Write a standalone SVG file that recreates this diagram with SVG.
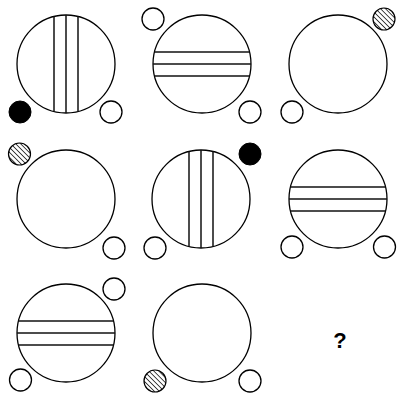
<svg xmlns="http://www.w3.org/2000/svg" width="397" height="396" viewBox="0 0 397 396">
<defs>
<pattern id="hatch" patternUnits="userSpaceOnUse" width="3.5" height="3.5" patternTransform="rotate(-45)">
<rect width="3.5" height="3.5" fill="#fff"/>
<line x1="0" y1="0" x2="0" y2="3.5" stroke="#222" stroke-width="1.6"/>
</pattern>
</defs>
<style>
.big{fill:#fff;stroke:#000;stroke-width:1.3}
.sm{fill:#fff;stroke:#000;stroke-width:1.3}
.blk{fill:#000;stroke:#000;stroke-width:1}
.hat{fill:url(#hatch);stroke:#000;stroke-width:1.2}
.ln{stroke:#111;stroke-width:1.5;fill:none}
.q{font-family:"Liberation Sans",Arial,sans-serif;font-size:22px;font-weight:bold;fill:#000}
</style>
<rect width="397" height="396" fill="#fff"/>
<g id="cell1">
<circle class="big" cx="66" cy="64" r="49"/>
<line class="ln" x1="54" y1="16.5" x2="54" y2="111.5"/>
<line class="ln" x1="66" y1="15" x2="66" y2="113"/>
<line class="ln" x1="78" y1="16.5" x2="78" y2="111.5"/>
<circle class="blk" cx="20" cy="112" r="11"/>
<circle class="sm" cx="111" cy="112" r="11"/>
</g>
<g id="cell2">
<circle class="big" cx="202" cy="64" r="49"/>
<line class="ln" x1="154.5" y1="52" x2="249.5" y2="52"/>
<line class="ln" x1="153" y1="64" x2="251" y2="64"/>
<line class="ln" x1="154.5" y1="76" x2="249.5" y2="76"/>
<circle class="sm" cx="153" cy="19" r="11"/>
<circle class="sm" cx="250" cy="112" r="11"/>
</g>
<g id="cell3">
<circle class="big" cx="338" cy="64" r="49"/>
<circle class="hat" cx="384" cy="19" r="11"/>
<circle class="sm" cx="292" cy="112" r="11"/>
</g>
<g id="cell4">
<circle class="big" cx="66" cy="199" r="49"/>
<circle class="hat" cx="19.5" cy="154" r="11"/>
<circle class="sm" cx="114" cy="248" r="11"/>
</g>
<g id="cell5">
<circle class="big" cx="201" cy="199" r="49"/>
<line class="ln" x1="189" y1="151.5" x2="189" y2="246.5"/>
<line class="ln" x1="201" y1="150" x2="201" y2="248"/>
<line class="ln" x1="213" y1="151.5" x2="213" y2="246.5"/>
<circle class="blk" cx="250" cy="154" r="11"/>
<circle class="sm" cx="155" cy="248" r="11"/>
</g>
<g id="cell6">
<circle class="big" cx="338" cy="199" r="49"/>
<line class="ln" x1="290.5" y1="187" x2="385.5" y2="187"/>
<line class="ln" x1="289" y1="199" x2="387" y2="199"/>
<line class="ln" x1="290.5" y1="211" x2="385.5" y2="211"/>
<circle class="sm" cx="292" cy="247" r="11"/>
<circle class="sm" cx="384.5" cy="247" r="11"/>
</g>
<g id="cell7">
<circle class="big" cx="66" cy="333" r="49"/>
<line class="ln" x1="18.5" y1="321" x2="113.5" y2="321"/>
<line class="ln" x1="17" y1="333" x2="115" y2="333"/>
<line class="ln" x1="18.5" y1="345" x2="113.5" y2="345"/>
<circle class="sm" cx="114" cy="289" r="11"/>
<circle class="sm" cx="20.5" cy="380" r="11"/>
</g>
<g id="cell8">
<circle class="big" cx="202" cy="333" r="49"/>
<circle class="hat" cx="155" cy="381" r="11"/>
<circle class="sm" cx="250" cy="381" r="11"/>
</g>
<g id="cell9">
<text class="q" x="340" y="348" text-anchor="middle">?</text>
</g>
</svg>
